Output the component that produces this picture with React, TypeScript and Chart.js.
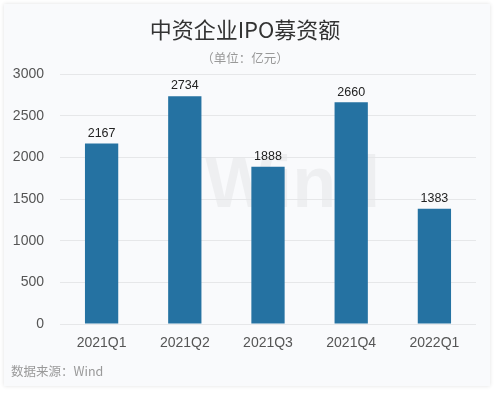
import React, { useEffect, useRef } from "react";
import { Chart, registerables } from "chart.js";

Chart.register(...registerables);

const categories = ["2021Q1", "2021Q2", "2021Q3", "2021Q4", "2022Q1"];
const values = [2167, 2734, 1888, 2660, 1383];
const yTicks = [0, 500, 1000, 1500, 2000, 2500, 3000];

const titleText = "中资企业IPO募资额";
const subtitleText = "（单位：亿元）";
const sourceText = "数据来源：Wind";
const watermarkText = "Wind";

const valueLabelPlugin = {
  id: "valueLabels",
  afterDatasetsDraw(chart: any) {
    const ctx = chart.ctx;
    const meta = chart.getDatasetMeta(0);
    ctx.save();
    ctx.font = '12.5px "Liberation Sans", Arial, sans-serif';
    ctx.fillStyle = "#222";
    ctx.textAlign = "center";
    ctx.textBaseline = "bottom";
    meta.data.forEach((bar: any, i: number) => {
      ctx.fillText(String(values[i]), bar.x, bar.y - 4);
    });
    ctx.restore();
  },
};

export default function App() {
  const ref = useRef<HTMLCanvasElement | null>(null);

  useEffect(() => {
    document.body.style.margin = "0";
    if (!ref.current) return;
    const chart = new Chart(ref.current, {
      type: "bar",
      data: {
        labels: categories,
        datasets: [
          {
            data: values,
            backgroundColor: "#2572a2",
            categoryPercentage: 1,
            barPercentage: 0.4,
          },
        ],
      },
      options: {
        animation: false,
        responsive: false,
        maintainAspectRatio: false,
        layout: { padding: { top: 74, left: 0, right: 24, bottom: 39 } },
        plugins: {
          legend: { display: false },
          title: { display: false },
          tooltip: { enabled: false },
        },
        scales: {
          x: {
            grid: { display: false, drawTicks: false },
            border: { display: false },
            ticks: {
              padding: 11,
              color: "#555",
              font: { size: 14, family: '"Liberation Sans", Arial, sans-serif' },
            },
            afterFit(scale: any) {
              scale.height = 30;
            },
          },
          y: {
            min: 0,
            max: 3000,
            afterBuildTicks(scale: any) {
              scale.ticks = yTicks.map((v) => ({ value: v }));
            },
            grid: { color: "#e6e7e9", drawTicks: false, lineWidth: 1 },
            border: { display: false },
            ticks: {
              padding: 16,
              color: "#555",
              font: { size: 14, family: '"Liberation Sans", Arial, sans-serif' },
              callback: (v: any) => String(v),
            },
            afterFit(scale: any) {
              scale.width = 60;
            },
          },
        },
      },
      plugins: [valueLabelPlugin],
    });
    return () => chart.destroy();
  }, []);

  return (
    <div style={{ position: "relative", width: 500, height: 393, background: "#ffffff", overflow: "hidden" }}>
      <div
        style={{
          position: "absolute",
          left: 4,
          top: 4,
          width: 486,
          height: 382,
          background: "#f9fafc",
          boxShadow: "0 0 4px rgba(0,0,0,0.12)",
        }}
      />
      <div
        style={{
          position: "absolute",
          left: 205,
          top: 142,
          fontFamily: '"Liberation Sans", Arial, sans-serif',
          fontWeight: "bold",
          fontSize: 72,
          color: "rgba(0,0,0,0.045)",
          lineHeight: "80px",
        }}
      >
        {watermarkText}
      </div>
      <canvas ref={ref} width={500} height={393} style={{ position: "absolute", left: 0, top: 0 }} />
      <div
        style={{
          position: "absolute",
          left: 0,
          width: 490,
          top: 13,
          textAlign: "center",
          fontFamily: '"Noto Sans CJK SC", sans-serif',
          fontSize: 22,
          color: "#333",
          lineHeight: "30px",
        }}
      >
        {titleText}
      </div>
      <div
        style={{
          position: "absolute",
          left: 0,
          width: 490,
          top: 49,
          textAlign: "center",
          fontFamily: '"Noto Sans CJK SC", sans-serif',
          fontSize: 12.5,
          color: "#999",
          lineHeight: "18px",
        }}
      >
        {subtitleText}
      </div>
      <div
        style={{
          position: "absolute",
          left: 11,
          top: 362,
          fontFamily: '"Noto Sans CJK SC", "Liberation Sans", sans-serif',
          fontSize: 12.5,
          color: "#999",
          lineHeight: "18px",
        }}
      >
        {sourceText}
      </div>
    </div>
  );
}
